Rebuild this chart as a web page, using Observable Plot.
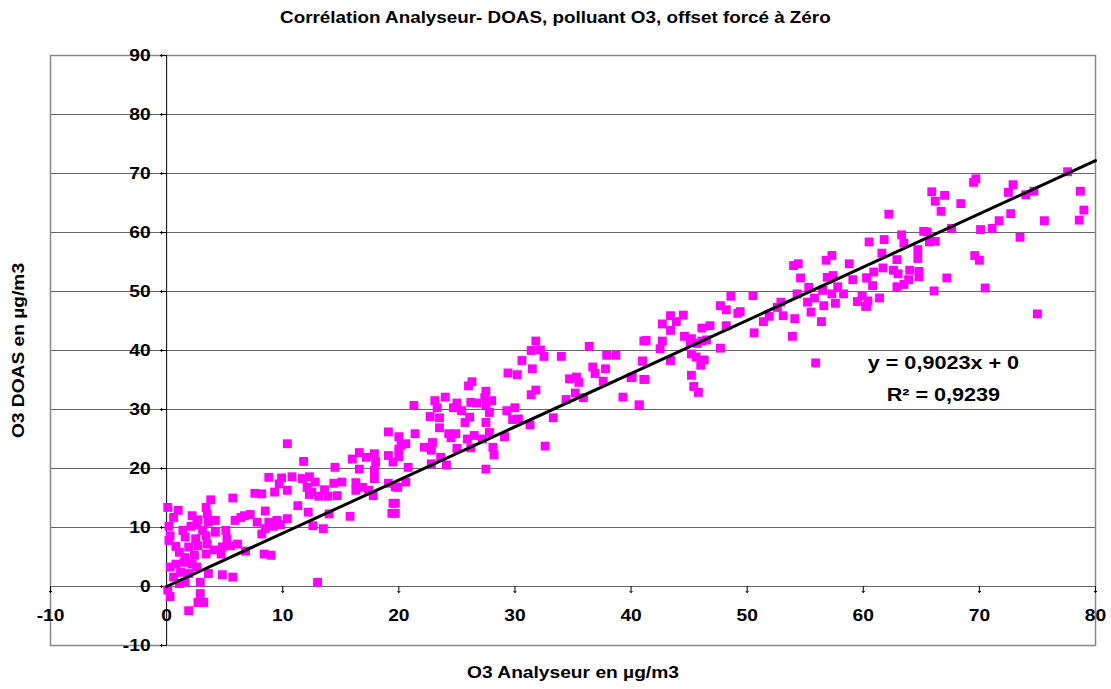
<!DOCTYPE html>
<html>
<head>
<meta charset="utf-8">
<script src="https://cdn.jsdelivr.net/npm/d3@7"></script>
<script src="https://cdn.jsdelivr.net/npm/@observablehq/plot@0.6"></script>
<style>
  html, body { margin: 0; padding: 0; background: #fff; }
  body { width: 1111px; height: 689px; overflow: hidden; font-family: "Liberation Sans", Arial, sans-serif; }
  #title { height: 40px; line-height: 36px; text-align: center; color: #000; }
  #title span { display: inline-block; font-weight: bold; font-size: 15.7px; transform: scaleX(1.2); transform-origin: center; }
  svg { display: block; }
</style>
</head>
<body>
<div id="title"><span></span></div>
<div id="chart"></div>
<script>
const title = "Corrélation Analyseur- DOAS, polluant O3, offset forcé à Zéro";
const xLabel = "O3 Analyseur en µg/m3";
const yLabel = "O3 DOAS en µg/m3";
const equationText = "y = 0,9023x + 0";
const r2Text = "R² = 0,9239";
const slope = 0.9023;
const xTicks = [-10, 0, 10, 20, 30, 40, 50, 60, 70, 80];
const yTicks = [-10, 0, 10, 20, 30, 40, 50, 60, 70, 80, 90];

// O3 Analyseur (x) values
const xs = [
77.6,69.7,69.5,72.9,72.5,65.9,67.0,66.2,74.0,74.7,78.7,68.4,66.7,62.2,72.7,79.0,78.6,75.6,71.7,71.1,
70.1,67.6,73.5,65.2,65.5,63.3,60.5,61.8,63.5,65.7,66.2,64.7,61.6,62.9,64.7,69.6,70.0,60.9,61.7,62.6,
63.0,64.0,64.8,64.8,60.3,60.8,63.9,63.5,62.9,67.2,66.1,70.5,59.9,60.4,60.3,61.4,75.0,
57.3,56.8,54.0,54.4,58.8,56.9,57.4,54.6,59.1,60.3,55.3,56.5,57.8,57.3,58.3,54.3,55.8,55.2,57.6,59.5,
60.2,56.6,55.5,52.9,52.6,48.6,50.5,47.7,48.2,49.2,49.4,53.1,54.1,51.9,51.4,56.4,48.2,43.4,44.5,42.7,
43.9,43.4,46.1,46.8,50.6,53.9,41.3,42.7,42.5,44.6,45.2,45.1,46.1,46.5,45.7,47.7,45.2,45.6,46.3,46.0,
43.4,41.0,40.1,41.2,45.2,45.4,45.8,55.9,40.7,
31.8,31.4,32.2,32.5,30.6,31.5,36.4,34.0,37.9,38.7,41.1,41.0,36.7,37.8,36.9,37.6,29.4,30.2,34.7,35.3,
35.5,40.0,41.1,26.3,26.0,31.8,31.4,35.2,35.9,34.4,39.3,40.7,24.0,23.1,23.3,21.3,25.0,24.7,26.2,27.5,
27.4,28.0,27.5,26.7,27.8,25.4,26.1,22.7,23.5,25.7,27.5,23.5,21.4,24.3,24.9,24.5,27.8,29.3,30.0,29.8,
30.3,29.1,31.3,33.3,25.9,26.5,27.2,26.2,28.1,28.2,25.0,22.2,22.9,22.8,23.6,20.0,20.6,20.0,20.0,20.8,
22.8,24.1,27.5,32.6,20.6,19.9,19.7,19.7,
19.1,20.2,10.4,11.8,16.6,16.0,17.2,17.9,18.0,19.1,19.5,14.5,16.6,17.9,17.9,19.1,19.7,8.8,9.9,10.8,
11.7,12.3,12.8,9.7,10.4,9.3,12.1,12.5,13.6,14.4,15.1,14.7,13.9,13.1,12.3,16.3,16.3,16.9,17.4,17.8,
19.5,19.4,15.8,14.0,12.6,13.5,11.3,12.2,8.5,7.6,8.2,5.7,3.8,3.4,0.1,1.0,0.6,2.2,2.7,3.5,
4.2,3.6,5.9,6.4,6.7,7.2,7.8,8.8,9.5,10.4,8.5,9.2,9.8,8.2,0.2,0.3,0.2,1.4,2.1,2.6,
3.1,1.6,2.5,3.4,4.2,5.1,5.2,6.1,5.5,0.8,1.1,1.9,2.7,3.5,4.1,4.8,3.4,2.4,1.6,4.7,
6.8,8.4,9.0,0.3,0.8,1.5,2.2,2.6,1.2,1.9,3.6,4.8,5.7,0.6,1.1,1.6,2.9,13.0,0.1,0.3,
2.9,2.7,3.2,1.9
];
// O3 DOAS (y) values
const ys = [
70.3,69.1,68.5,68.1,66.8,66.9,66.3,65.3,66.4,67.0,67.0,64.9,63.6,63.1,63.2,63.8,62.1,62.0,62.0,60.7,
60.5,60.7,59.2,60.2,60.1,59.6,58.4,58.8,58.2,58.4,58.5,57.1,56.5,55.4,55.6,56.1,55.3,53.3,54.0,53.6,
53.0,53.6,53.4,52.5,52.3,51.0,52.0,51.2,50.8,52.3,50.1,50.6,49.3,48.4,47.5,48.9,46.2,
56.1,55.3,54.4,54.7,54.7,52.4,52.7,52.3,52.0,52.3,50.7,50.2,50.8,49.6,49.6,49.6,48.9,48.2,48.0,48.3,
47.5,47.6,46.5,48.2,47.3,49.2,49.3,47.6,46.9,46.3,46.6,45.9,45.4,45.8,44.9,44.9,44.2,45.9,46.0,44.5,
44.9,43.4,43.8,44.2,43.0,42.4,41.7,41.6,40.3,42.4,42.0,41.4,41.6,41.8,41.2,40.4,39.4,38.9,38.4,37.5,
38.3,38.2,35.5,35.1,35.8,33.9,32.9,37.9,30.8,
41.6,40.0,40.1,39.0,38.3,36.9,40.7,39.0,39.2,39.2,41.6,38.2,37.2,36.9,36.1,34.8,36.2,35.9,35.2,35.5,
34.6,35.4,35.1,34.7,34.0,33.3,32.5,32.8,32.0,31.7,32.1,30.7,32.1,31.5,30.3,30.7,31.1,30.3,31.2,33.1,
32.0,31.5,30.8,31.1,29.5,29.8,28.7,28.8,28.6,27.8,27.8,26.9,25.9,25.9,25.9,25.2,26.1,29.8,30.3,28.3,
28.4,25.4,27.4,28.6,25.0,25.6,25.0,23.5,23.6,22.3,23.4,23.6,24.4,23.1,21.9,25.4,24.2,23.3,22.0,20.2,
20.8,20.6,19.9,23.8,17.7,16.8,14.1,12.4,
26.2,23.9,24.2,21.2,22.7,21.6,21.9,22.5,21.1,22.2,21.1,20.2,19.9,19.7,18.3,17.5,16.9,18.5,18.4,18.6,
18.3,18.6,17.7,17.4,16.3,16.0,16.8,16.0,16.4,17.5,17.7,15.4,15.3,15.3,15.6,17.6,16.3,16.8,16.3,15.4,
14.1,12.4,11.9,12.3,10.3,9.8,13.7,12.6,12.8,15.8,15.7,15.0,14.7,13.4,13.4,12.9,11.7,12.0,11.3,12.3,
11.2,10.9,11.2,11.7,12.0,12.2,10.9,10.9,11.2,11.5,9.8,10.2,10.5,8.9,10.2,8.6,7.8,9.5,10.2,10.5,
9.5,8.4,8.1,8.6,9.2,9.5,8.1,7.2,6.9,6.8,5.8,6.7,6.9,7.2,6.2,6.7,5.5,5.3,4.9,5.5,
6.0,5.5,5.3,3.3,3.8,4.1,3.8,3.3,2.4,2.2,2.2,2.0,1.6,1.6,0.5,0.7,0.7,0.7,-0.6,-1.7,
-1.2,-2.7,-2.7,-4.1
];

document.querySelector("#title span").textContent = title;

const points = xs.map((x, i) => ({x, y: ys[i]}));
const trendXs = [0, 80];
const trend = trendXs.map(x => ({x, y: slope * x}));

const font = "'Liberation Sans', Arial, sans-serif";

const chart = Plot.plot({
  width: 1111,
  height: 649,
  marginLeft: 50,
  marginRight: 16,
  marginTop: 15,
  marginBottom: 44,
  style: {fontFamily: font, background: "#fff", color: "#000", overflow: "visible"},
  x: {domain: [-10, 80], axis: null},
  y: {domain: [-10, 90], axis: null},
  marks: [
    Plot.ruleY(yTicks, {stroke: "#666", strokeWidth: 1}),
    Plot.frame({stroke: "#888", strokeWidth: 1.5}),
    Plot.ruleX([0], {stroke: "#000", strokeWidth: 1}),
    Plot.ruleY([0], {stroke: "#666", strokeWidth: 1}),
    Plot.vector(yTicks, {x: 0, y: d => d, rotate: 270, length: 6, anchor: "start", stroke: "#000", strokeWidth: 1}),
    Plot.vector(xTicks, {x: d => d, y: 0, rotate: 180, length: 6, anchor: "start", stroke: "#000", strokeWidth: 1}),
    Plot.text(yTicks, {x: 0, y: d => d, text: d => String(d), textAnchor: "end", dx: -16, fontSize: 16, fontWeight: "bold", fill: "#000"}),
    Plot.text(xTicks, {x: d => d, y: 0, text: d => String(d), textAnchor: "middle", dy: 29, fontSize: 16, fontWeight: "bold", fill: "#000"}),
    Plot.dot(points, {x: "x", y: "y", symbol: "square", r: 5, fill: "#ff00ff", stroke: "none"}),
    Plot.line(trend, {x: "x", y: "y", stroke: "#000", strokeWidth: 3}),
    Plot.text([equationText], {x: 66.9, y: 37.8, text: d => d, textAnchor: "middle", fontSize: 18, fontWeight: "bold", fill: "#000"}),
    Plot.text([r2Text], {x: 66.9, y: 32.4, text: d => d, textAnchor: "middle", fontSize: 18, fontWeight: "bold", fill: "#000"}),
    Plot.text([yLabel], {frameAnchor: "left", rotate: -90, dx: -32, text: d => d, textAnchor: "middle", fontSize: 16, fontWeight: "bold", fill: "#000"}),
    Plot.text([xLabel], {frameAnchor: "bottom", dy: 32, text: d => d, textAnchor: "middle", fontSize: 16, fontWeight: "bold", fill: "#000"})
  ]
});

// Horizontal stretch of all texts (as in the reference rendering).
// Numeric x/y positions are moved into the transform; em offsets are kept.
const isNum = v => v !== null && v !== "" && isFinite(+v);
chart.querySelectorAll("text").forEach(t => {
  let tr = t.getAttribute("transform") || "";
  const x = t.getAttribute("x"), y = t.getAttribute("y");
  const nx = isNum(x) ? +x : 0, ny = isNum(y) ? +y : 0;
  if (isNum(x)) t.removeAttribute("x");
  if (isNum(y)) t.removeAttribute("y");
  if (nx || ny) tr = `translate(${nx},${ny}) ` + tr;
  t.setAttribute("transform", (tr + " scale(1.2,1)").trim());
});

document.getElementById("chart").appendChild(chart);
</script>
</body>
</html>
